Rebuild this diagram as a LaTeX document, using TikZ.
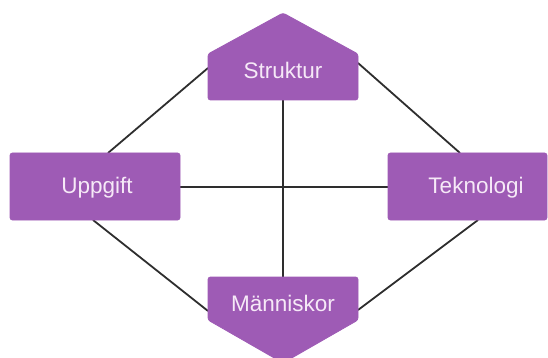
\documentclass[tikz,border=0pt]{standalone}
\usepackage{fontspec}
\setmainfont{Liberation Sans}
\definecolor{boxfill}{HTML}{9E5BB5}
\definecolor{boxtext}{HTML}{F6E9F7}
\definecolor{linecol}{HTML}{2E2E2E}
\begin{document}
\begin{tikzpicture}[x=1pt,y=-1pt,
  shapefill/.style={fill=boxfill, draw=boxfill, line width=0.8pt, rounded corners=2.5pt},
  label/.style={text=boxtext, font=\fontsize{22.5}{26}\selectfont, inner sep=0pt},
  conn/.style={draw=linecol, line width=1.8pt}]
\useasboundingbox (0,0) rectangle (548,358);
% connector end points
\coordinate (sL) at (208,68);
\coordinate (sR) at (358,63);
\coordinate (sB) at (283,100);
\coordinate (mL) at (208,311);
\coordinate (mR) at (358,310);
\coordinate (mT) at (283,277);
\coordinate (uT) at (108,153);
\coordinate (uB) at (93,220);
\coordinate (uR) at (180,187);
\coordinate (tT) at (460,153);
\coordinate (tB) at (478,220);
\coordinate (tL) at (388,187);
% connectors
\draw[conn] (uR) -- (tL);
\draw[conn] (sB) -- (mT);
\draw[conn] (uT) -- (sL);
\draw[conn] (sR) -- (tT);
\draw[conn] (uB) -- (mL);
\draw[conn] (tB) -- (mR);
% shapes
\begin{scope}
\clip (0,0) rectangle (548,358);
\fill[shapefill] (208,100) -- (208,54) -- (283,13) -- (358,54) -- (358,100) -- cycle;
\fill[shapefill] (208,277) -- (358,277) -- (358,320) -- (283,363) -- (208,320) -- cycle;
\fill[shapefill] (10,153) rectangle (180,220);
\fill[shapefill] (388,153) rectangle (547,220);
\end{scope}
% labels
\node[label] (struktur) at (283,70) {Struktur};
\node[label] (manniskor) at (283,303) {Människor};
\node[label] (uppgift) at (97,188) {Uppgift};
\node[label] (teknologi) at (476,188) {Teknologi};
\end{tikzpicture}
\end{document}
